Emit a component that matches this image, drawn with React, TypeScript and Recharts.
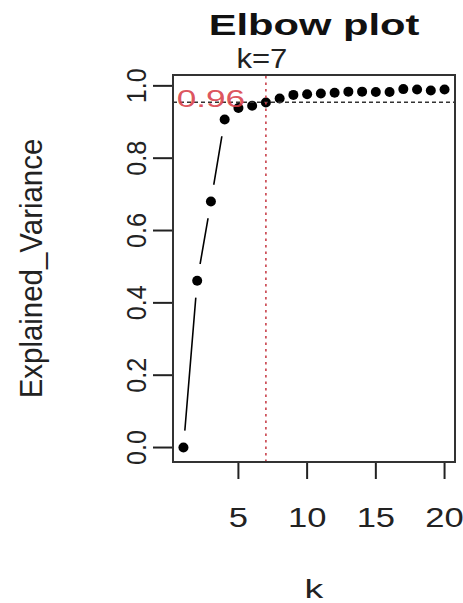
import React from 'react';
import {
  ComposedChart,
  Line,
  XAxis,
  YAxis,
  ReferenceLine,
  ReferenceArea,
  ReferenceDot,
  Label,
} from 'recharts';

const kValues = [1, 2, 3, 4, 5, 6, 7, 8, 9, 10, 11, 12, 13, 14, 15, 16, 17, 18, 19, 20];
const explainedVariance = [
  0.0, 0.461, 0.68, 0.907, 0.939, 0.945, 0.954, 0.965, 0.975, 0.977,
  0.979, 0.981, 0.984, 0.984, 0.983, 0.983, 0.991, 0.99, 0.987, 0.99,
];
const xTicks = [5, 10, 15, 20];
const yTicks = [0, 0.2, 0.4, 0.6, 0.8, 1.0];
const xDomain = [0.24, 20.76];
const yDomain = [-0.04, 1.03];
const chosenK = 7;
const thresholdValue = 0.955;
const thresholdLabel = '0.96';
const thresholdLabelK = 3;
const thresholdLabelY = 0.96;
const titleText = 'Elbow plot';
const xLabelText = 'k';
const yLabelText = 'Explained_Variance';
const kMarkerText = 'k=7';

const data = kValues.map((k, i) => ({ k, v: explainedVariance[i] }));

const FONT = '"Liberation Sans", Arial, Helvetica, sans-serif';

const XTick = (props: any) => {
  const { x, payload } = props;
  return (
    <g transform={`translate(${x},527) scale(1.28,1)`}>
      <text x={0} y={0} textAnchor="middle" fontSize={27} fontFamily={FONT} fill="#222">
        {String(payload.value)}
      </text>
    </g>
  );
};

const YTick = (props: any) => {
  const { y, payload } = props;
  return (
    <g transform={`translate(146,${y}) rotate(-90) scale(0.9,1)`}>
      <text x={0} y={0} textAnchor="middle" fontSize={28} fontFamily={FONT} fill="#222">
        {Number(payload.value).toFixed(1)}
      </text>
    </g>
  );
};

const gapDot = (props: any) => (
  <circle key={`gap-${props.index}`} cx={props.cx} cy={props.cy} r={17} fill="#ffffff" stroke="none" />
);
const blackDot = (props: any) => (
  <circle key={`dot-${props.index}`} cx={props.cx} cy={props.cy} r={5} fill="#000000" stroke="none" />
);

export default function App() {
  return (
    <div style={{ position: 'absolute', left: 0, top: 0, width: 463, height: 603, background: '#fff' }}>
      <ComposedChart
        width={463}
        height={603}
        data={data}
        margin={{ top: 75, right: 8, bottom: 0, left: 0 }}
      >
        <XAxis
          dataKey="k"
          type="number"
          domain={xDomain}
          ticks={xTicks}
          allowDataOverflow
          height={141}
          axisLine={false}
          tickSize={17}
          tickLine={{ stroke: '#222', strokeWidth: 2 }}
          tick={<XTick />}
          interval={0}
        >
          <Label
            content={(p: any) => {
              const vb = p.viewBox || {};
              const cx = (vb.x ?? 173) + (vb.width ?? 282) / 2;
              return (
                <g transform={`translate(${cx},598) scale(1.5,1)`}>
                  <text x={0} y={0} textAnchor="middle" fontSize={25} fontFamily={FONT} fill="#222">
                    {xLabelText}
                  </text>
                </g>
              );
            }}
          />
        </XAxis>
        <YAxis
          type="number"
          domain={yDomain}
          ticks={yTicks}
          allowDataOverflow
          width={173}
          axisLine={false}
          tickSize={20}
          tickLine={{ stroke: '#222', strokeWidth: 2 }}
          tick={<YTick />}
          interval={0}
        >
          <Label
            content={(p: any) => {
              const vb = p.viewBox || {};
              const cy = (vb.y ?? 75) + (vb.height ?? 387) / 2;
              return (
                <g transform={`translate(42,${cy}) rotate(-90) scale(0.92,1)`}>
                  <text x={0} y={0} textAnchor="middle" fontSize={32} fontFamily={FONT} fill="#222">
                    {yLabelText}
                  </text>
                </g>
              );
            }}
          />
        </YAxis>
        <Line
          dataKey="v"
          stroke="#000"
          strokeWidth={1.6}
          dot={gapDot}
          activeDot={false}
          isAnimationActive={false}
        />
        <Line
          dataKey="v"
          stroke="none"
          dot={blackDot}
          activeDot={false}
          isAnimationActive={false}
          zIndex={900}
        />
        <ReferenceLine
          y={thresholdValue}
          stroke="#333"
          strokeWidth={1.5}
          strokeDasharray="4 3"
          ifOverflow="visible"
          zIndex={800}
        />
        <ReferenceLine
          x={chosenK}
          stroke="#c8404a"
          strokeWidth={1.6}
          strokeDasharray="2.5 4"
          ifOverflow="visible"
          zIndex={800}
        >
          <Label
            content={(p: any) => {
              const vb = p.viewBox || {};
              const cx = (vb.x ?? 266) - 4;
              return (
                <g transform={`translate(${cx},68) scale(1.15,1)`}>
                  <text x={0} y={0} textAnchor="middle" fontSize={27} fontFamily={FONT} fill="#222">
                    {kMarkerText}
                  </text>
                </g>
              );
            }}
          />
        </ReferenceLine>
        <ReferenceArea
          x1={xDomain[0]}
          x2={xDomain[1]}
          y1={yDomain[0]}
          y2={yDomain[1]}
          fill="none"
          fillOpacity={0}
          stroke="#333"
          strokeWidth={2}
          strokeOpacity={1}
          ifOverflow="visible"
          zIndex={1000}
        >
          <Label
            content={(p: any) => {
              const vb = p.viewBox || {};
              const cx = (vb.x ?? 173) + (vb.width ?? 282) / 2;
              return (
                <g transform={`translate(${cx},35) scale(1.39,1)`}>
                  <text x={0} y={0} textAnchor="middle" fontSize={30} fontWeight="bold" fontFamily={FONT} fill="#111">
                    {titleText}
                  </text>
                </g>
              );
            }}
          />
        </ReferenceArea>
        <ReferenceDot
          x={thresholdLabelK}
          y={thresholdLabelY}
          r={0}
          fill="none"
          stroke="none"
          ifOverflow="visible"
          zIndex={850}
        >
          <Label
            content={(p: any) => {
              const vb = p.viewBox || {};
              const cx = (vb.x ?? 0) + (vb.width ?? 0) / 2;
              const cy = (vb.y ?? 0) + (vb.height ?? 0) / 2;
              return (
                <g transform={`translate(${cx},${cy + 7}) scale(1.53,1)`}>
                  <text x={0} y={0} textAnchor="middle" fontSize={23} fontFamily={FONT} fill="#d9404a" fillOpacity={0.9}>
                    {thresholdLabel}
                  </text>
                </g>
              );
            }}
          />
        </ReferenceDot>
      </ComposedChart>
    </div>
  );
}
